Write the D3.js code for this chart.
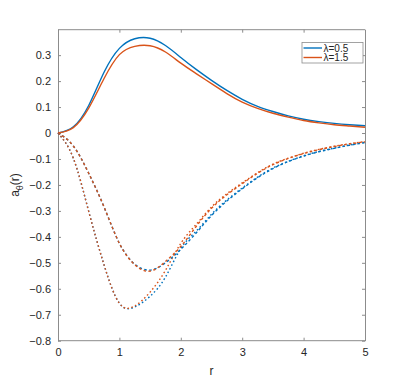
<!DOCTYPE html>
<html>
<head>
<meta charset="utf-8">
<script src="https://cdn.jsdelivr.net/npm/d3@7"></script>
<style>
  html, body { margin: 0; padding: 0; background: #fff; }
  svg { display: block; }
  text { font-family: "Liberation Sans", Arial, Helvetica, sans-serif; fill: #262626; }
</style>
</head>
<body>
<svg id="chart" width="404" height="382"></svg>
<script>
const r = [0, 0.25, 0.5, 0.75, 1, 1.25, 1.5, 1.75, 2, 2.25, 2.5, 2.75, 3, 3.25, 3.5, 3.75, 4, 4.25, 4.5, 4.75, 5];

const solidBlue   = [0, 0.024, 0.106, 0.234, 0.326, 0.363, 0.365, 0.337, 0.291, 0.245, 0.203, 0.164, 0.130, 0.103, 0.083, 0.066, 0.053, 0.044, 0.037, 0.032, 0.028];
const solidOrange = [0, 0.021, 0.096, 0.210, 0.302, 0.334, 0.336, 0.312, 0.269, 0.229, 0.190, 0.152, 0.119, 0.095, 0.076, 0.061, 0.048, 0.039, 0.032, 0.027, 0.022];

const dashBlue    = [0, -0.050, -0.155, -0.285, -0.425, -0.505, -0.528, -0.500, -0.448, -0.385, -0.318, -0.262, -0.215, -0.172, -0.137, -0.110, -0.089, -0.072, -0.059, -0.047, -0.037];
const dashOrange  = [0, -0.050, -0.155, -0.285, -0.425, -0.507, -0.532, -0.495, -0.437, -0.360, -0.290, -0.238, -0.195, -0.155, -0.122, -0.098, -0.079, -0.064, -0.052, -0.042, -0.034];

const dotBlue     = [0, -0.097, -0.302, -0.508, -0.656, -0.670, -0.629, -0.555, -0.445, -0.378, -0.313, -0.258, -0.212, -0.170, -0.135, -0.109, -0.088, -0.071, -0.058, -0.046, -0.036];
const dotOrange   = [0, -0.097, -0.302, -0.508, -0.656, -0.666, -0.613, -0.529, -0.425, -0.352, -0.285, -0.234, -0.192, -0.153, -0.120, -0.097, -0.078, -0.063, -0.051, -0.041, -0.033];

const xTicks = [0, 1, 2, 3, 4, 5];
const yTicks = [-0.8, -0.7, -0.6, -0.5, -0.4, -0.3, -0.2, -0.1, 0, 0.1, 0.2, 0.3];
const legendLabels = ["λ=0.5", "λ=1.5"];

const blue = "#0072BD", orange = "#D95319";

const svg = d3.select("#chart");
const L = 58, R = 365, T = 29.7, B = 340.7;
const x = d3.scaleLinear().domain([0, 5]).range([L, R]);
const y = d3.scaleLinear().domain([-0.8, 0.398]).range([B, T]);

const axisColor = "#8c8c8c";
const tickLen = 3;

// axes
const gB = svg.append("g").attr("transform", `translate(0,${B})`)
  .call(d3.axisBottom(x).tickValues(xTicks).tickSizeInner(-tickLen).tickSizeOuter(0).tickPadding(8).tickFormat(d3.format("d")));
const gT = svg.append("g").attr("transform", `translate(0,${T})`)
  .call(d3.axisTop(x).tickValues(xTicks).tickSizeInner(-tickLen).tickSizeOuter(0).tickFormat(""));
const gL = svg.append("g").attr("transform", `translate(${L},0)`)
  .call(d3.axisLeft(y).tickValues(yTicks).tickSizeInner(-tickLen).tickSizeOuter(0).tickPadding(7).tickFormat(d => d === 0 ? "0" : d3.format(".1f")(d)));
const gR = svg.append("g").attr("transform", `translate(${R},0)`)
  .call(d3.axisRight(y).tickValues(yTicks).tickSizeInner(-tickLen).tickSizeOuter(0).tickFormat(""));

[gB, gT, gL, gR].forEach(g => {
  g.select(".domain").attr("stroke", axisColor);
  g.selectAll(".tick line").attr("stroke", axisColor);
  g.selectAll(".tick text").attr("fill", "#262626").style("font-size", "11px")
    .style("font-family", "'Liberation Sans', Arial, sans-serif");
});
gB.select(".domain").attr("d", `M${L},0H${R}`);
gT.select(".domain").attr("d", `M${L},0H${R}`);

// lines
const line = d3.line().x((d, i) => x(r[i])).y(d => y(d)).curve(d3.curveNatural);
const plotG = svg.append("g");
const series = [
  { v: dotBlue, c: blue, dash: "1.6,2.4" },
  { v: dotOrange, c: orange, dash: "1.6,2.4" },
  { v: dashBlue, c: blue, dash: "2.6,2.4" },
  { v: dashOrange, c: orange, dash: "2.6,2.4" },
  { v: solidBlue, c: blue, dash: null },
  { v: solidOrange, c: orange, dash: null }
];
series.forEach(s => {
  plotG.append("path").datum(s.v)
    .attr("d", line)
    .attr("fill", "none")
    .attr("stroke", s.c)
    .attr("stroke-width", 1.4)
    .attr("stroke-dasharray", s.dash);
});

// legend
const lg = svg.append("g");
lg.append("rect").attr("x", 302).attr("y", 42.5).attr("width", 61).attr("height", 20.5)
  .attr("fill", "#fff").attr("stroke", axisColor).attr("stroke-width", 0.8);
[blue, orange].forEach((c, i) => {
  const yy = 48 + i * 9.5;
  lg.append("line").attr("x1", 303.5).attr("x2", 322).attr("y1", yy).attr("y2", yy)
    .attr("stroke", c).attr("stroke-width", 1.4);
  lg.append("text").attr("x", 323.5).attr("y", yy + 3.6).style("font-size", "10px").text(legendLabels[i]);
});

// axis labels
svg.append("text").attr("x", (L + R) / 2).attr("y", 375).attr("text-anchor", "middle")
  .style("font-size", "12px").text("r");
const yl = svg.append("text").attr("transform", `translate(19,185) rotate(-90)`).attr("text-anchor", "middle")
  .style("font-size", "12px");
yl.append("tspan").text("a");
yl.append("tspan").attr("dy", 4).style("font-size", "9px").text("θ");
yl.append("tspan").attr("dy", -4).text("(r)");
</script>
</body>
</html>
